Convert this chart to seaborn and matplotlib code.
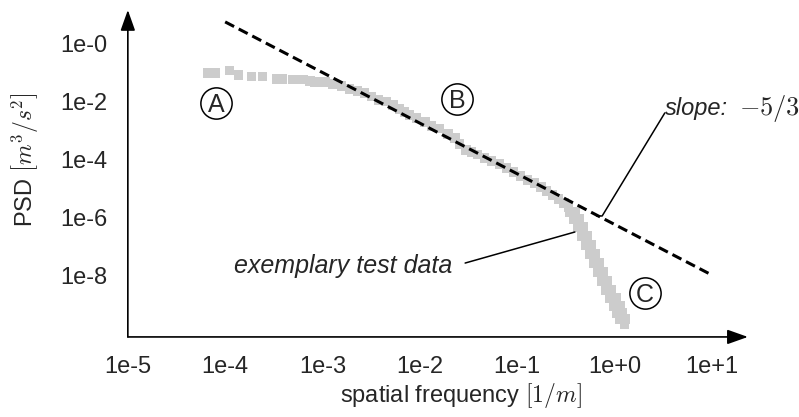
import matplotlib
matplotlib.use("Agg")
import matplotlib.pyplot as plt
import seaborn as sns
import pandas as pd

# ---------------- data ----------------
freq_low = [6.64e-5, 7.92e-5, 1.10e-4, 1.37e-4, 1.86e-4, 2.41e-4, 3.36e-4, 3.87e-4,
            4.91e-4, 5.65e-4, 6.44e-4, 7.43e-4, 8.36e-4, 9.40e-4, 1.06e-3, 1.28e-3,
            1.58e-3, 1.91e-3, 2.31e-3, 2.73e-3, 3.22e-3, 3.80e-3, 4.49e-3, 5.30e-3,
            6.24e-3, 7.03e-3, 7.91e-3, 9.33e-3, 1.13e-2, 1.33e-2, 1.61e-2, 1.95e-2,
            2.30e-2, 2.58e-2, 2.98e-2, 3.43e-2, 3.95e-2, 4.67e-2, 5.51e-2, 6.65e-2,
            7.85e-2, 9.27e-2, 0.109, 0.129, 0.152, 0.176, 0.202, 0.233, 0.269, 0.303,
            0.340]
psd_low = [0.0996, 0.0996, 0.117, 0.0849, 0.0725, 0.0725, 0.0618, 0.0618,
           0.0571, 0.0571, 0.0571, 0.0527, 0.0487, 0.0487, 0.0487, 0.0415,
           0.0354, 0.0279, 0.0238, 0.0203, 0.0148, 0.0116, 9.93e-3, 7.82e-3,
           5.69e-3, 4.48e-3, 3.53e-3, 2.78e-3, 2.02e-3, 1.47e-3, 1.16e-3, 7.79e-4,
           5.66e-4, 3.51e-4, 2.18e-4, 1.86e-4, 1.47e-4, 1.15e-4, 9.09e-5, 7.16e-5,
           5.21e-5, 3.79e-5, 2.75e-5, 2.00e-5, 1.58e-5, 1.15e-5, 8.36e-6, 6.08e-6,
           4.42e-6, 3.22e-6, 2.34e-6]

# roll-off: left edge, right edge and centre of the grey band
freq_roll_left = [0.349, 0.384, 0.422, 0.464, 0.510, 0.560, 0.616, 0.677, 0.744,
                  0.817, 0.900, 0.988, 1.06, 1.14]
freq_roll_right = [0.402, 0.442, 0.486, 0.534, 0.587, 0.645, 0.709, 0.779, 0.856,
                   0.941, 1.04, 1.14, 1.22, 1.31]
psd_roll_edges = [1.57e-6, 9.02e-7, 4.77e-7, 2.33e-7, 1.14e-7, 5.57e-8, 2.72e-8,
                  1.33e-8, 6.50e-9, 3.18e-9, 1.68e-9, 8.91e-10, 5.11e-10, 3.17e-10]
freq_roll_mid = [0.393, 0.431, 0.474, 0.521, 0.573, 0.631, 0.693, 0.762, 0.838,
                 0.920, 1.01, 1.10, 1.18, 1.28]
psd_roll_mid = [1.19e-6, 6.56e-7, 3.34e-7, 1.63e-7, 7.97e-8, 3.90e-8, 1.90e-8,
                9.31e-9, 4.55e-9, 2.31e-9, 1.22e-9, 6.75e-10, 4.02e-10, 2.13e-10]

slope_freq = [1e-4, 1e1]
slope_psd = [5.75, 1.05e-8]

xticks = [1e-5, 1e-4, 1e-3, 1e-2, 1e-1, 1e0, 1e1]
xticklabels = ["1e-5", "1e-4", "1e-3", "1e-2", "1e-1", "1e+0", "1e+1"]
yticks = [1e-8, 1e-6, 1e-4, 1e-2, 1e0]
yticklabels = ["1e-8", "1e-6", "1e-4", "1e-2", "1e-0"]

freq = freq_low + freq_roll_left + freq_roll_right + freq_roll_mid
psd = psd_low + psd_roll_edges + psd_roll_edges + psd_roll_mid

# ---------------- style ----------------
sns.set_theme(style="white")
plt.rcParams["font.family"] = ["Liberation Sans", "DejaVu Sans"]
plt.rcParams["mathtext.fontset"] = "cm"
FS = 17

fig = plt.figure(figsize=(7.99, 4.17), dpi=100)
ax = fig.add_axes([0.160, 0.192, 0.776, 0.784])
ax.set_xscale("log")
ax.set_yscale("log")

df = pd.DataFrame({"f": freq, "p": psd})
sns.scatterplot(data=df, x="f", y="p", marker="s", s=44, color="#cccccc",
                edgecolor="none", linewidth=0, ax=ax, zorder=2)
sns.lineplot(x=slope_freq, y=slope_psd, color="black", linewidth=2.2,
             dashes=False, ax=ax, zorder=3)
ax.lines[-1].set_dashes([3.3, 1.7])

ax.set_xlim(1e-5, 10 ** 1.372)
ax.set_ylim(10 ** -10.12, 10 ** 1.17)

ax.set_xticks(xticks)
ax.set_xticklabels(xticklabels, fontsize=FS)
ax.set_yticks(yticks)
ax.set_yticklabels(yticklabels, fontsize=FS)
ax.minorticks_off()
ax.tick_params(axis="both", direction="in", length=8, width=1.0, color="black")
ax.tick_params(axis="x", pad=14)
ax.tick_params(axis="y", pad=15)

for s in ax.spines.values():
    s.set_visible(False)

arrow_kw = dict(arrowstyle="-|>,head_length=0.9,head_width=0.32", color="black",
                lw=1.2, shrinkA=0, shrinkB=0, mutation_scale=14)
ax.annotate("", xy=(1, 0), xytext=(0, 0), xycoords="axes fraction",
            textcoords="axes fraction", arrowprops=arrow_kw)
ax.annotate("", xy=(0, 1), xytext=(0, 0), xycoords="axes fraction",
            textcoords="axes fraction", arrowprops=arrow_kw)

ax.set_xlabel("")
ax.set_ylabel("")
fig.text(461 / 799, 1 - 396 / 417, r"spatial frequency $[1/m]$", fontsize=FS,
         ha="center", va="center")
fig.text(25 / 799, 1 - 160 / 417, r"PSD $\left[m^3/s^2\right]$", fontsize=FS,
         ha="center", va="center", rotation=90)

# circled labels
for lab, (fx, fy) in {"A": (0.142, 0.716), "B": (0.531, 0.728), "C": (0.834, 0.135)}.items():
    ax.plot([fx], [fy], marker="o", markersize=22.5, mfc="none", mec="black",
            mew=1.1, transform=ax.transAxes, clip_on=False, zorder=4)
    ax.text(fx, fy, lab, fontsize=18, ha="center", va="center_baseline",
            transform=ax.transAxes, zorder=5)

# slope annotation
ax.text(0.866, 0.679, "slope:", fontsize=FS, style="italic", ha="left",
        va="baseline", transform=ax.transAxes)
ax.text(0.985, 0.679, r"$-5/3$", fontsize=19, ha="left",
        va="baseline", transform=ax.transAxes, clip_on=False)
ax.plot([0.866, 0.765, 0.756], [0.685, 0.370, 0.370], color="black", lw=1.1,
        transform=ax.transAxes, clip_on=False)

# data annotation
ax.text(0.523, 0.196, "exemplary test data", fontsize=18, style="italic",
        ha="right", va="baseline", transform=ax.transAxes)
ax.plot([0.544, 0.721], [0.226, 0.321], color="black", lw=1.1,
        transform=ax.transAxes, clip_on=False)

fig.savefig("out.png", dpi=100)
